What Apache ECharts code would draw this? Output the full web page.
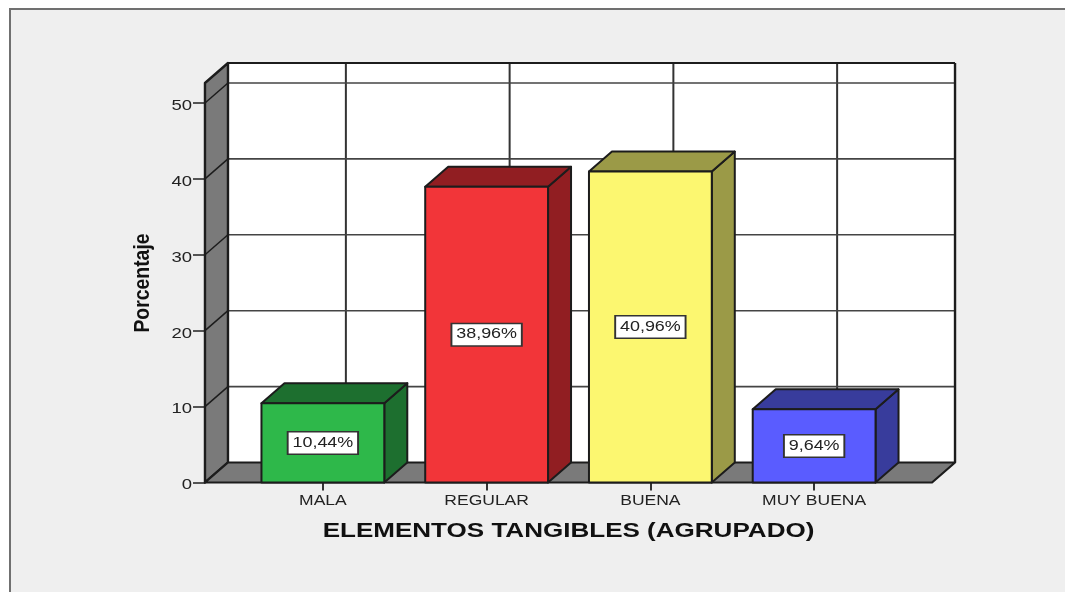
<!DOCTYPE html>
<html>
<head>
<meta charset="utf-8">
<style>html,body{margin:0;padding:0;background:#fff}#c{width:1065px;height:592px}</style>
<script src="https://cdn.jsdelivr.net/npm/echarts@6/dist/echarts.min.js"></script>
</head>
<body>
<div id="c"></div>
<script>
const categories = ['MALA', 'REGULAR', 'BUENA', 'MUY BUENA'];
const values = [10.44, 38.96, 40.96, 9.64];
const valueLabels = ['10,44%', '38,96%', '40,96%', '9,64%'];
const yTicks = [0, 10, 20, 30, 40, 50];
const frontColors = ['#2eb84a', '#f23539', '#fcf770', '#5a5cff'];
const shadeColors = ['#1d6f2f', '#911e22', '#9b9a47', '#383c9c'];
const xTitle = 'ELEMENTOS TANGIBLES (AGRUPADO)';
const yTitle = 'Porcentaje';
const yTop = 52.63;

const DX = 23, DY = -20, EDGE = 0.72, BAR = 0.75;
const LINE = '#1c1c1c';
const FONT = '"Liberation Sans"';

function poly(points, fill, lw) {
  return { type: 'polygon', shape: { points }, style: { fill, stroke: LINE, lineWidth: lw, lineJoin: 'round' } };
}
function seg(x1, y1, x2, y2, lw, color) {
  return { type: 'line', shape: { x1, y1, x2, y2 }, style: { stroke: color || LINE, lineWidth: lw } };
}

function renderRoom(params, api) {
  const band = api.size([1, 0])[0];
  const L = api.coord([0, 0])[0] - band * EDGE;
  const R = api.coord([categories.length - 1, 0])[0] + band * EDGE;
  const y0 = api.coord([0, 0])[1];
  const yT = api.coord([0, yTop])[1];
  const kids = [];
  kids.push({ type: 'rect', shape: { x: L + DX, y: yT + DY, width: R - L, height: y0 - yT }, style: { fill: '#fff', stroke: 'none' } });
  categories.forEach((c, i) => {
    const x = api.coord([i, 0])[0] + DX;
    kids.push(seg(x, yT + DY, x, y0 + DY, 2, '#333'));
  });
  yTicks.slice(1).forEach(v => {
    const y = api.coord([0, v])[1] + DY;
    kids.push(seg(L + DX, y, R + DX, y, 1.6, '#444'));
  });
  kids.push(seg(L + DX, yT + DY, R + DX, yT + DY, 1.8));
  kids.push(seg(R + DX, yT + DY, R + DX, y0 + DY, 2.4));
  kids.push(poly([[L, y0], [L, yT], [L + DX, yT + DY], [L + DX, y0 + DY]], '#7a7a7a', 2.4));
  yTicks.slice(1).forEach(v => {
    const y = api.coord([0, v])[1];
    kids.push(seg(L, y, L + DX, y + DY, 1.5));
  });
  kids.push(poly([[L, y0], [R, y0], [R + DX, y0 + DY], [L + DX, y0 + DY]], '#7a7a7a', 2.2));
  return { type: 'group', children: kids };
}

function renderBar(params, api) {
  const i = api.value(0), v = api.value(1);
  const band = api.size([1, 0])[0];
  const w = band * BAR;
  const c = api.coord([i, v]);
  const b = api.coord([i, 0]);
  const l = c[0] - w / 2, r = c[0] + w / 2, t = c[1], y0 = b[1];
  return {
    type: 'group',
    children: [
      poly([[r, y0], [r, t], [r + DX, t + DY], [r + DX, y0 + DY]], shadeColors[i], 2),
      poly([[l, t], [r, t], [r + DX, t + DY], [l + DX, t + DY]], shadeColors[i], 2),
      poly([[l, y0], [l, t], [r, t], [r, y0]], frontColors[i], 2),
      {
        type: 'text', x: c[0], y: (t + y0) / 2, scaleX: 1.28, z2: 10,
        style: {
          text: valueLabels[i], align: 'center', verticalAlign: 'middle',
          font: '14px ' + FONT, fill: '#222',
          backgroundColor: '#fff', borderColor: '#333', borderWidth: 1.5, padding: [6, 3, 1, 3]
        }
      }
    ]
  };
}

function renderXLabel(params, api) {
  const i = api.value(0);
  const p = api.coord([i, 0]);
  return {
    type: 'text', x: p[0], y: p[1] + 19, scaleX: 1.25,
    style: { text: categories[i], align: 'center', verticalAlign: 'middle', font: '14px ' + FONT, fill: '#222' }
  };
}

function renderYLabel(params, api) {
  const v = api.value(1);
  const p = api.coord([0, v]);
  const band = api.size([1, 0])[0];
  return {
    type: 'text', x: p[0] - band * EDGE - 13, y: p[1] + 3, scaleX: 1.32,
    style: { text: String(v), align: 'right', verticalAlign: 'middle', font: '14px ' + FONT, fill: '#222' }
  };
}

const chart = echarts.init(document.getElementById('c'), null, { renderer: 'canvas' });
chart.setOption({
  animation: false,
  backgroundColor: '#fff',
  textStyle: { fontFamily: 'Liberation Sans' },
  graphic: [
    {
      type: 'rect', z: -10, silent: true,
      shape: { x: 10, y: 9, width: 1200, height: 800 },
      style: { fill: '#efefef', stroke: '#707070', lineWidth: 2 }
    },
    {
      type: 'text', z: 5, silent: true, x: 568.5, y: 532, scaleX: 1.335,
      style: { text: xTitle, align: 'center', verticalAlign: 'middle', font: 'bold 19.5px ' + FONT, fill: '#111' }
    },
    {
      type: 'text', z: 5, silent: true, x: 143, y: 283, rotation: Math.PI / 2, scaleY: 1.1,
      style: { text: yTitle, align: 'center', verticalAlign: 'middle', font: 'bold 19.4px ' + FONT, fill: '#111' }
    }
  ],
  grid: { left: 241, top: 83, width: 655, height: 399.5, containLabel: false },
  xAxis: {
    type: 'category', data: categories,
    axisLine: { show: false },
    axisTick: { show: true, alignWithLabel: true, length: 8, lineStyle: { color: '#333', width: 2 } },
    axisLabel: { show: false },
    splitLine: { show: false }
  },
  yAxis: {
    type: 'value', min: 0, max: yTop, offset: 36,
    axisLine: { show: false },
    axisTick: { show: true, length: 12, customValues: yTicks, lineStyle: { color: '#222', width: 1.5 } },
    axisLabel: { show: false },
    splitLine: { show: false }
  },
  series: [
    { type: 'custom', z: 1, silent: true, renderItem: renderRoom, data: [[0, 0]], encode: { x: 0, y: 1 } },
    { type: 'custom', z: 3, silent: true, renderItem: renderBar, data: values.map((v, i) => [i, v]), encode: { x: 0, y: 1 } },
    { type: 'custom', z: 4, silent: true, renderItem: renderXLabel, data: categories.map((c, i) => [i, 0]), encode: { x: 0, y: 1 } },
    { type: 'custom', z: 4, silent: true, renderItem: renderYLabel, data: yTicks.map(v => [0, v]), encode: { x: 0, y: 1 } }
  ]
});
</script>
</body>
</html>
